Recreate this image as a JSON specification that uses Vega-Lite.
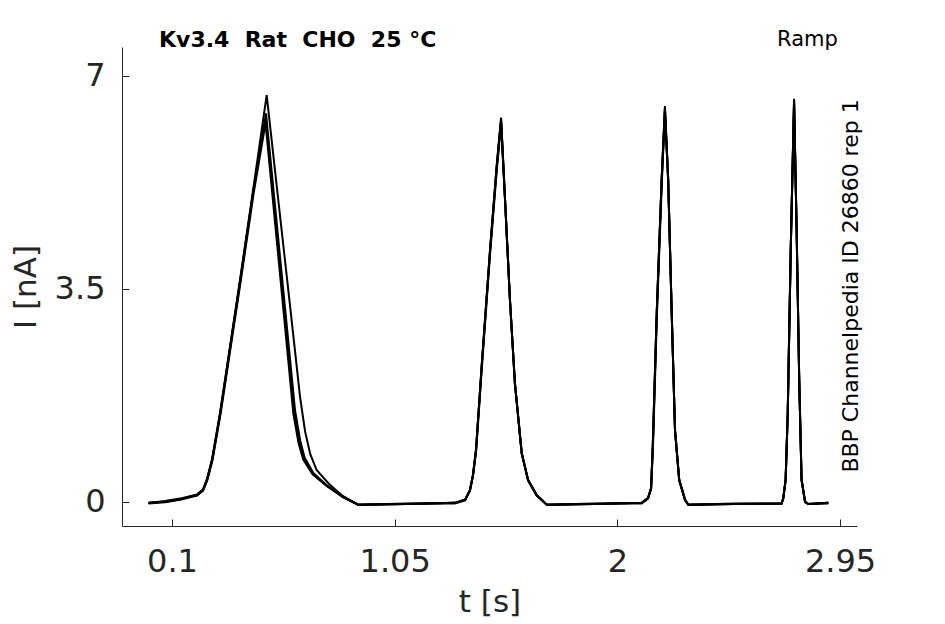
{
  "$schema": "https://vega.github.io/schema/vega-lite/v6.json",
  "width": 735,
  "height": 479,
  "autosize": {"type": "none"},
  "padding": {"left": 122, "top": 47, "right": 88, "bottom": 98},
  "background": "white",
  "config": {
    "view": {"stroke": null},
    "font": "DejaVu Sans",
    "axis": {
      "grid": false,
      "labelFont": "DejaVu Sans",
      "titleFont": "DejaVu Sans",
      "labelFontSize": 32,
      "titleFontSize": 31,
      "titleFontWeight": "normal",
      "labelColor": "#262626",
      "titleColor": "#262626",
      "domainColor": "#262626",
      "tickColor": "#262626",
      "domainWidth": 1,
      "tickWidth": 1,
      "tickSize": -7,
      "labelFlush": false,
      "labelOverlap": false,
      "format": ".4~g"
    }
  },
  "datasets": {
    "traces": [
      {"s": "a", "t": 0, "i": -0.02}, {"s": "a", "t": 0.07, "i": 0}, {"s": "a", "t": 0.134, "i": 0.04}, {"s": "a", "t": 0.207, "i": 0.11},
      {"s": "a", "t": 0.232, "i": 0.19}, {"s": "a", "t": 0.249, "i": 0.36}, {"s": "a", "t": 0.271, "i": 0.69}, {"s": "a", "t": 0.305, "i": 1.46},
      {"s": "a", "t": 0.39, "i": 3.64}, {"s": "a", "t": 0.446, "i": 5.12}, {"s": "a", "t": 0.504, "i": 6.68}, {"s": "a", "t": 0.547, "i": 5.18},
      {"s": "a", "t": 0.607, "i": 3.1}, {"s": "a", "t": 0.646, "i": 1.73}, {"s": "a", "t": 0.668, "i": 1.15}, {"s": "a", "t": 0.69, "i": 0.78},
      {"s": "a", "t": 0.717, "i": 0.52}, {"s": "a", "t": 0.77, "i": 0.29}, {"s": "a", "t": 0.83, "i": 0.09}, {"s": "a", "t": 0.894, "i": -0.05},
      {"s": "a", "t": 1.1, "i": -0.04}, {"s": "a", "t": 1.307, "i": -0.02}, {"s": "a", "t": 1.35, "i": 0.03}, {"s": "a", "t": 1.371, "i": 0.19},
      {"s": "a", "t": 1.384, "i": 0.44}, {"s": "a", "t": 1.397, "i": 0.85}, {"s": "a", "t": 1.421, "i": 2.22}, {"s": "a", "t": 1.457, "i": 4.14},
      {"s": "a", "t": 1.485, "i": 5.5}, {"s": "a", "t": 1.504, "i": 6.31}, {"s": "a", "t": 1.521, "i": 4.96}, {"s": "a", "t": 1.542, "i": 3.31},
      {"s": "a", "t": 1.563, "i": 1.95}, {"s": "a", "t": 1.592, "i": 0.8}, {"s": "a", "t": 1.619, "i": 0.36}, {"s": "a", "t": 1.656, "i": 0.11},
      {"s": "a", "t": 1.699, "i": -0.05}, {"s": "a", "t": 1.9, "i": -0.04}, {"s": "a", "t": 2.104, "i": -0.02}, {"s": "a", "t": 2.131, "i": 0.06},
      {"s": "a", "t": 2.144, "i": 0.22}, {"s": "a", "t": 2.151, "i": 0.9}, {"s": "a", "t": 2.168, "i": 3.1}, {"s": "a", "t": 2.189, "i": 5.29},
      {"s": "a", "t": 2.203, "i": 6.5}, {"s": "a", "t": 2.217, "i": 5.29}, {"s": "a", "t": 2.232, "i": 3.1}, {"s": "a", "t": 2.246, "i": 1.18},
      {"s": "a", "t": 2.264, "i": 0.36}, {"s": "a", "t": 2.289, "i": 0.03}, {"s": "a", "t": 2.303, "i": -0.05}, {"s": "a", "t": 2.5, "i": -0.04},
      {"s": "a", "t": 2.701, "i": -0.03}, {"s": "a", "t": 2.708, "i": 0.06}, {"s": "a", "t": 2.718, "i": 0.36}, {"s": "a", "t": 2.727, "i": 1.46},
      {"s": "a", "t": 2.74, "i": 4.19}, {"s": "a", "t": 2.754, "i": 6.62}, {"s": "a", "t": 2.765, "i": 4.46}, {"s": "a", "t": 2.776, "i": 2.0},
      {"s": "a", "t": 2.786, "i": 0.36}, {"s": "a", "t": 2.801, "i": 0.0}, {"s": "a", "t": 2.815, "i": -0.04}, {"s": "a", "t": 2.9, "i": -0.02},

      {"s": "b", "t": 0, "i": -0.03}, {"s": "b", "t": 0.07, "i": -0.01}, {"s": "b", "t": 0.134, "i": 0.03}, {"s": "b", "t": 0.207, "i": 0.1},
      {"s": "b", "t": 0.232, "i": 0.18}, {"s": "b", "t": 0.25, "i": 0.35}, {"s": "b", "t": 0.272, "i": 0.68}, {"s": "b", "t": 0.306, "i": 1.45},
      {"s": "b", "t": 0.391, "i": 3.62}, {"s": "b", "t": 0.447, "i": 5.1}, {"s": "b", "t": 0.501, "i": 6.38}, {"s": "b", "t": 0.625, "i": 1.5},
      {"s": "b", "t": 0.647, "i": 1.0}, {"s": "b", "t": 0.666, "i": 0.72}, {"s": "b", "t": 0.703, "i": 0.47}, {"s": "b", "t": 0.76, "i": 0.27},
      {"s": "b", "t": 0.83, "i": 0.08}, {"s": "b", "t": 0.894, "i": -0.05},
      {"s": "b", "t": 1.1, "i": -0.03}, {"s": "b", "t": 1.307, "i": -0.03}, {"s": "b", "t": 1.35, "i": 0.02}, {"s": "b", "t": 1.371, "i": 0.18},
      {"s": "b", "t": 1.384, "i": 0.43}, {"s": "b", "t": 1.397, "i": 0.84}, {"s": "b", "t": 1.421, "i": 2.2}, {"s": "b", "t": 1.457, "i": 4.12},
      {"s": "b", "t": 1.485, "i": 5.48}, {"s": "b", "t": 1.504, "i": 6.26}, {"s": "b", "t": 1.521, "i": 4.95}, {"s": "b", "t": 1.542, "i": 3.3},
      {"s": "b", "t": 1.563, "i": 1.94}, {"s": "b", "t": 1.592, "i": 0.8}, {"s": "b", "t": 1.619, "i": 0.35}, {"s": "b", "t": 1.656, "i": 0.1},
      {"s": "b", "t": 1.699, "i": -0.05}, {"s": "b", "t": 1.9, "i": -0.03}, {"s": "b", "t": 2.104, "i": -0.03}, {"s": "b", "t": 2.131, "i": 0.05},
      {"s": "b", "t": 2.144, "i": 0.21}, {"s": "b", "t": 2.151, "i": 0.88}, {"s": "b", "t": 2.168, "i": 3.08}, {"s": "b", "t": 2.189, "i": 5.27},
      {"s": "b", "t": 2.203, "i": 6.44}, {"s": "b", "t": 2.217, "i": 5.27}, {"s": "b", "t": 2.232, "i": 3.09}, {"s": "b", "t": 2.246, "i": 1.17},
      {"s": "b", "t": 2.264, "i": 0.35}, {"s": "b", "t": 2.289, "i": 0.02}, {"s": "b", "t": 2.303, "i": -0.05}, {"s": "b", "t": 2.5, "i": -0.03},
      {"s": "b", "t": 2.701, "i": -0.03}, {"s": "b", "t": 2.708, "i": 0.05}, {"s": "b", "t": 2.718, "i": 0.35}, {"s": "b", "t": 2.727, "i": 1.45},
      {"s": "b", "t": 2.74, "i": 4.17}, {"s": "b", "t": 2.754, "i": 6.58}, {"s": "b", "t": 2.765, "i": 4.44}, {"s": "b", "t": 2.776, "i": 1.99},
      {"s": "b", "t": 2.786, "i": 0.35}, {"s": "b", "t": 2.801, "i": -0.01}, {"s": "b", "t": 2.815, "i": -0.04}, {"s": "b", "t": 2.9, "i": -0.03},

      {"s": "c", "t": 0, "i": -0.02}, {"s": "c", "t": 0.07, "i": 0.01}, {"s": "c", "t": 0.134, "i": 0.05}, {"s": "c", "t": 0.207, "i": 0.12},
      {"s": "c", "t": 0.232, "i": 0.2}, {"s": "c", "t": 0.249, "i": 0.37}, {"s": "c", "t": 0.271, "i": 0.7}, {"s": "c", "t": 0.306, "i": 1.47},
      {"s": "c", "t": 0.391, "i": 3.64}, {"s": "c", "t": 0.447, "i": 5.11}, {"s": "c", "t": 0.5, "i": 6.3}, {"s": "c", "t": 0.621, "i": 1.46},
      {"s": "c", "t": 0.643, "i": 0.98}, {"s": "c", "t": 0.663, "i": 0.7}, {"s": "c", "t": 0.7, "i": 0.46}, {"s": "c", "t": 0.76, "i": 0.26},
      {"s": "c", "t": 0.83, "i": 0.07}, {"s": "c", "t": 0.894, "i": -0.05},
      {"s": "c", "t": 1.1, "i": -0.04}, {"s": "c", "t": 1.307, "i": -0.02}, {"s": "c", "t": 1.35, "i": 0.03}, {"s": "c", "t": 1.371, "i": 0.19},
      {"s": "c", "t": 1.384, "i": 0.44}, {"s": "c", "t": 1.397, "i": 0.85}, {"s": "c", "t": 1.421, "i": 2.22}, {"s": "c", "t": 1.457, "i": 4.14},
      {"s": "c", "t": 1.485, "i": 5.5}, {"s": "c", "t": 1.504, "i": 6.28}, {"s": "c", "t": 1.521, "i": 4.96}, {"s": "c", "t": 1.542, "i": 3.31},
      {"s": "c", "t": 1.563, "i": 1.95}, {"s": "c", "t": 1.592, "i": 0.8}, {"s": "c", "t": 1.619, "i": 0.36}, {"s": "c", "t": 1.656, "i": 0.11},
      {"s": "c", "t": 1.699, "i": -0.05}, {"s": "c", "t": 1.9, "i": -0.04}, {"s": "c", "t": 2.104, "i": -0.02}, {"s": "c", "t": 2.131, "i": 0.06},
      {"s": "c", "t": 2.144, "i": 0.22}, {"s": "c", "t": 2.151, "i": 0.9}, {"s": "c", "t": 2.168, "i": 3.1}, {"s": "c", "t": 2.189, "i": 5.29},
      {"s": "c", "t": 2.203, "i": 6.46}, {"s": "c", "t": 2.217, "i": 5.29}, {"s": "c", "t": 2.232, "i": 3.1}, {"s": "c", "t": 2.246, "i": 1.18},
      {"s": "c", "t": 2.264, "i": 0.36}, {"s": "c", "t": 2.289, "i": 0.03}, {"s": "c", "t": 2.303, "i": -0.05}, {"s": "c", "t": 2.5, "i": -0.04},
      {"s": "c", "t": 2.701, "i": -0.03}, {"s": "c", "t": 2.708, "i": 0.06}, {"s": "c", "t": 2.718, "i": 0.36}, {"s": "c", "t": 2.727, "i": 1.46},
      {"s": "c", "t": 2.74, "i": 4.19}, {"s": "c", "t": 2.754, "i": 6.59}, {"s": "c", "t": 2.765, "i": 4.46}, {"s": "c", "t": 2.776, "i": 2.0},
      {"s": "c", "t": 2.786, "i": 0.36}, {"s": "c", "t": 2.801, "i": 0.0}, {"s": "c", "t": 2.815, "i": -0.04}, {"s": "c", "t": 2.9, "i": -0.02},

      {"s": "d", "t": 0, "i": -0.02}, {"s": "d", "t": 0.07, "i": 0}, {"s": "d", "t": 0.134, "i": 0.04}, {"s": "d", "t": 0.207, "i": 0.11},
      {"s": "d", "t": 0.233, "i": 0.19}, {"s": "d", "t": 0.251, "i": 0.36}, {"s": "d", "t": 0.273, "i": 0.69}, {"s": "d", "t": 0.308, "i": 1.46},
      {"s": "d", "t": 0.393, "i": 3.62}, {"s": "d", "t": 0.449, "i": 5.08}, {"s": "d", "t": 0.499, "i": 6.22}, {"s": "d", "t": 0.618, "i": 1.44},
      {"s": "d", "t": 0.64, "i": 0.96}, {"s": "d", "t": 0.66, "i": 0.69}, {"s": "d", "t": 0.7, "i": 0.45}, {"s": "d", "t": 0.76, "i": 0.26},
      {"s": "d", "t": 0.83, "i": 0.08}, {"s": "d", "t": 0.894, "i": -0.05},
      {"s": "d", "t": 1.1, "i": -0.04}, {"s": "d", "t": 1.307, "i": -0.02}, {"s": "d", "t": 1.351, "i": 0.03}, {"s": "d", "t": 1.372, "i": 0.19},
      {"s": "d", "t": 1.385, "i": 0.44}, {"s": "d", "t": 1.398, "i": 0.85}, {"s": "d", "t": 1.422, "i": 2.2}, {"s": "d", "t": 1.458, "i": 4.12},
      {"s": "d", "t": 1.486, "i": 5.46}, {"s": "d", "t": 1.504, "i": 6.22}, {"s": "d", "t": 1.521, "i": 4.94}, {"s": "d", "t": 1.542, "i": 3.3},
      {"s": "d", "t": 1.563, "i": 1.94}, {"s": "d", "t": 1.592, "i": 0.79}, {"s": "d", "t": 1.619, "i": 0.35}, {"s": "d", "t": 1.656, "i": 0.1},
      {"s": "d", "t": 1.699, "i": -0.05}, {"s": "d", "t": 1.9, "i": -0.04}, {"s": "d", "t": 2.104, "i": -0.02}, {"s": "d", "t": 2.131, "i": 0.06},
      {"s": "d", "t": 2.144, "i": 0.22}, {"s": "d", "t": 2.152, "i": 0.9}, {"s": "d", "t": 2.169, "i": 3.08}, {"s": "d", "t": 2.19, "i": 5.26},
      {"s": "d", "t": 2.203, "i": 6.4}, {"s": "d", "t": 2.217, "i": 5.27}, {"s": "d", "t": 2.232, "i": 3.09}, {"s": "d", "t": 2.246, "i": 1.17},
      {"s": "d", "t": 2.264, "i": 0.35}, {"s": "d", "t": 2.289, "i": 0.03}, {"s": "d", "t": 2.303, "i": -0.05}, {"s": "d", "t": 2.5, "i": -0.04},
      {"s": "d", "t": 2.701, "i": -0.03}, {"s": "d", "t": 2.708, "i": 0.06}, {"s": "d", "t": 2.718, "i": 0.36}, {"s": "d", "t": 2.727, "i": 1.45},
      {"s": "d", "t": 2.74, "i": 4.17}, {"s": "d", "t": 2.754, "i": 6.54}, {"s": "d", "t": 2.765, "i": 4.44}, {"s": "d", "t": 2.776, "i": 1.99},
      {"s": "d", "t": 2.786, "i": 0.36}, {"s": "d", "t": 2.801, "i": 0.0}, {"s": "d", "t": 2.815, "i": -0.04}, {"s": "d", "t": 2.9, "i": -0.02}
    ],
    "one": [{}]
  },
  "layer": [
    {
      "data": {"name": "traces"},
      "mark": {"type": "line", "color": "black", "strokeWidth": 2, "clip": true},
      "encoding": {
        "x": {
          "field": "t",
          "type": "quantitative",
          "scale": {"domain": [-0.1133, 3.0225], "nice": false, "zero": false},
          "axis": {"title": "t [s]", "values": [0.1, 1.05, 2, 2.95], "labelPadding": 27, "titlePadding": 10}
        },
        "y": {
          "field": "i",
          "type": "quantitative",
          "scale": {"domain": [-0.4, 7.47], "nice": false, "zero": false},
          "axis": {"title": "I [nA]", "values": [0, 3.5, 7], "labelPadding": 24, "titlePadding": 12}
        },
        "detail": {"field": "s"}
      }
    },
    {
      "data": {"name": "one"},
      "mark": {"type": "text", "text": "Kv3.4\u00a0 Rat\u00a0 CHO\u00a0 25 °C", "font": "DejaVu Sans", "fontWeight": "bold", "fontSize": 22, "align": "left", "baseline": "alphabetic", "color": "black"},
      "encoding": {"x": {"datum": 0.0445}, "y": {"datum": 7.476}}
    },
    {
      "data": {"name": "one"},
      "mark": {"type": "text", "text": "Ramp", "font": "DejaVu Sans", "fontSize": 21, "align": "right", "baseline": "alphabetic", "color": "black"},
      "encoding": {"x": {"datum": 2.941}, "y": {"datum": 7.488}}
    },
    {
      "data": {"name": "one"},
      "mark": {"type": "text", "text": "BBP Channelpedia ID 26860 rep 1", "font": "DejaVu Sans", "fontSize": 22, "angle": 270, "align": "center", "baseline": "alphabetic", "color": "black"},
      "encoding": {"x": {"datum": 3.0267}, "y": {"datum": 3.544}}
    }
  ]
}
